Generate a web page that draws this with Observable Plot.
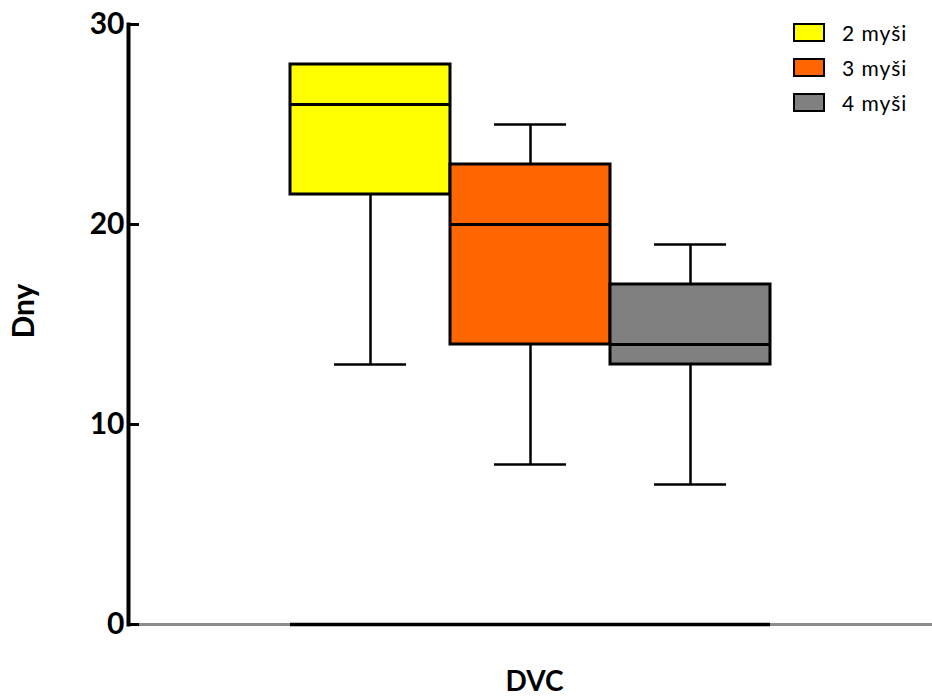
<!DOCTYPE html>
<html>
<head>
<meta charset="utf-8">
<script src="https://cdn.jsdelivr.net/npm/d3@7"></script>
<script src="https://cdn.jsdelivr.net/npm/@observablehq/plot@0.6"></script>
<style>
  html, body { margin: 0; padding: 0; background: #fff; }
  #wrap { position: relative; width: 932px; height: 696px; font-family: Lato, "Open Sans", sans-serif; }
  #legend { position: absolute; left: 793px; top: 23px; }
  .item { display: flex; align-items: center; height: 19px; margin-bottom: 16px; }
  .sw { width: 28px; height: 15px; border: 2px solid #000; margin-right: 17px; }
  .lbl { font-size: 21px; letter-spacing: 1px; color: #000; }
</style>
</head>
<body>
<div id="wrap"><div id="legend"></div></div>
<script>
const groups = ["2 myši", "3 myši", "4 myši"];
const colors = ["#FFFF00", "#FF6600", "#808080"];
const mins = [13, 8, 7];
const q1s = [21.5, 14, 13];
const medians = [26, 20, 14];
const q3s = [28, 23, 17];
const maxs = [28, 25, 19];
const yTicks = [0, 10, 20, 30];
const yLabel = "Dny";
const xLabel = "DVC";

const data = groups.map((g, i) => ({
  group: g, min: mins[i], q1: q1s[i], median: medians[i], q3: q3s[i], max: maxs[i]
}));

const chart = Plot.plot({
  width: 932,
  height: 696,
  marginTop: 24,
  marginBottom: 72,
  marginLeft: 128,
  marginRight: 0,
  style: { fontFamily: "Lato, 'Open Sans', sans-serif", background: "transparent" },
  x: { type: "band", domain: groups, paddingInner: 0, paddingOuter: 1, axis: null },
  y: { domain: [0, 30], axis: null },
  color: { domain: groups, range: colors },
  marks: [
    Plot.ruleY([0], { stroke: "#8c8c8c", strokeWidth: 3 }),
    Plot.tickY(groups, { x: d => d, y: () => 0, stroke: "#000", strokeWidth: 3.5 }),
    Plot.ruleX(data, { x: "group", y1: "min", y2: "q1", stroke: "#000", strokeWidth: 2.5 }),
    Plot.ruleX(data, { x: "group", y1: "q3", y2: "max", stroke: "#000", strokeWidth: 2.5 }),
    Plot.tickY(data, { x: "group", y: "min", stroke: "#000", strokeWidth: 2.5, insetLeft: 44, insetRight: 44 }),
    Plot.tickY(data, { x: "group", y: "max", stroke: "#000", strokeWidth: 2.5, insetLeft: 44, insetRight: 44 }),
    Plot.barY(data, { x: "group", y1: "q1", y2: "q3", fill: "group", stroke: "#000", strokeWidth: 3 }),
    Plot.tickY(data, { x: "group", y: "median", stroke: "#000", strokeWidth: 3 }),
    Plot.frame({ anchor: "left", stroke: "#000", strokeWidth: 4 }),
    Plot.axisY(yTicks, {
      tickSize: -11, tickPadding: 15, strokeWidth: 3,
      fontSize: 30, fontWeight: "bold", fill: "#000", label: null
    }),
    Plot.text([yLabel], { frameAnchor: "left", dx: -104, dy: 14, rotate: -90, fontSize: 30, fontWeight: "bold", fill: "#000", style: "letter-spacing: 1px" }),
    Plot.text([xLabel], { frameAnchor: "bottom", dx: 4, dy: 66, fontSize: 28, fontWeight: "bold", fill: "#000" })
  ]
});

const wrap = document.getElementById("wrap");
wrap.insertBefore(chart, wrap.firstChild);

const legend = document.getElementById("legend");
groups.forEach((g, i) => {
  const item = document.createElement("div");
  item.className = "item";
  const sw = document.createElement("div");
  sw.className = "sw";
  sw.style.background = colors[i];
  const lbl = document.createElement("span");
  lbl.className = "lbl";
  lbl.textContent = g;
  item.appendChild(sw);
  item.appendChild(lbl);
  legend.appendChild(item);
});
</script>
</body>
</html>
